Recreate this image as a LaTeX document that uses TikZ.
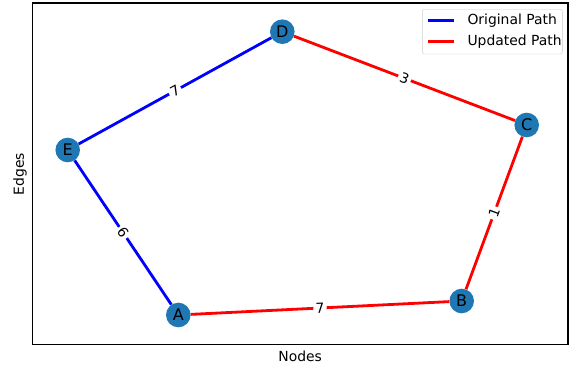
\documentclass[tikz,border=0pt]{standalone}
\usepackage{fontspec}
\setmainfont{DejaVu Sans}
\usetikzlibrary{positioning}

\definecolor{nodeblue}{RGB}{31,119,180}
\tikzset{
    vertex/.style={circle, fill=nodeblue, minimum size=24.6pt, inner sep=0pt,
        font=\fontsize{16}{16}\selectfont},
    orig/.style={draw=blue, line width=2.8pt},
    upd/.style={draw=red, line width=2.8pt},
    weight/.style={fill=white, inner sep=2.2pt, sloped,
        font=\fontsize{13.9}{14}\selectfont},
    axlabel/.style={font=\fontsize{13.9}{14}\selectfont}
}

\begin{document}
\begin{tikzpicture}[x=1pt,y=-1pt]
    \useasboundingbox (0,0) rectangle (571,366);
    \draw [line width=1.1pt] (32.5,3) rectangle (568,344.5);
    \node (A) [vertex] at (178.3,315) {A};
    \node (B) [vertex] at (461.7,301) {B};
    \node (C) [vertex] at (526.7,125) {C};
    \node (D) [vertex] at (282.3,31.7) {D};
    \node (E) [vertex] at (67.7,150) {E};
    \draw [orig]
        (E) to node [weight] {7} (D)
        (E) to node [weight] {6} (A);
    \draw [upd]
        (D) to node [weight] {3} (C)
        (C) to node [weight] {1} (B)
        (A) to node [weight] {7} (B);
    % legend
    \draw [draw=black!20, fill=white, rounded corners=2pt] (422.3,9.3) rectangle (562.3,54);
    \coordinate (o1) at (428,20.7);
    \coordinate (o2) at (454,20.7);
    \coordinate (u1) at (428,41.3);
    \coordinate (u2) at (454,41.3);
    \draw [orig] (o1) -- (o2);
    \draw [upd] (u1) -- (u2);
    \node (otext) [axlabel, anchor=west] at (464,20.7) {Original Path};
    \node (utext) [axlabel, anchor=west] at (464,41.3) {Updated Path};
    % axes labels
    \node (xlab) [axlabel] at (300.2,356) {Nodes};
    \node (ylab) [axlabel, rotate=90] at (20,174) {Edges};
\end{tikzpicture}
\end{document}
